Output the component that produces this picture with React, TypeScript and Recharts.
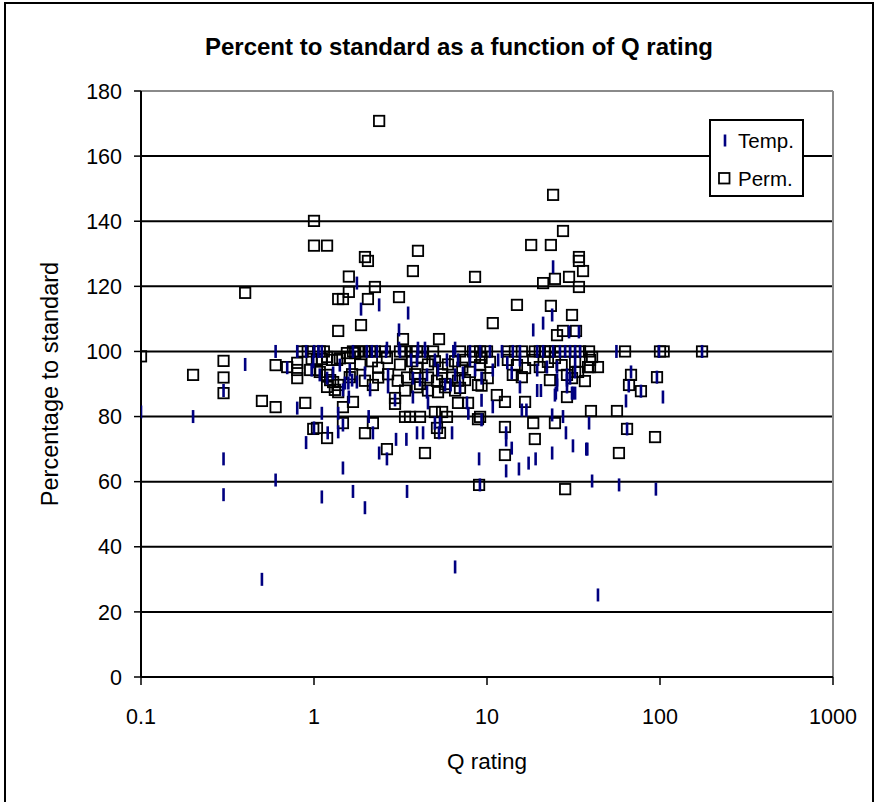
import React from 'react';
import { ScatterChart, Scatter, XAxis, YAxis, CartesianGrid, ReferenceLine } from 'recharts';

// Temp. series: [Q rating, percentage to standard]
const TEMP: [number, number][] = [
  [0.1, 81.4], [0.2, 80.0], [0.3, 88.0], [0.3, 67.0], [0.3, 56.0], [0.4, 96.0], [0.5, 30.0],
  [0.6, 100], [0.6, 60.5], [0.7, 95.0], [0.8, 82.6], [0.9, 72.0], [0.8, 100], [0.9, 100],
  [1.0, 100], [1.06, 100], [1.11, 100], [1.0, 76.5], [1.11, 81.0], [1.11, 55.3], [1.2, 75.0],
  [1.38, 81.0], [1.38, 75.3], [1.47, 64.2], [1.68, 57.0], [1.47, 77.4], [1.97, 52.0],
  [3.45, 57.0], [6.54, 33.8], [43.8, 25.2], [9.0, 67.0], [9.1, 59.0], [12.9, 63.3], [15.3, 63.9],
  [17.4, 65.7], [19.1, 67.0], [23.8, 68.8], [31.4, 71.0], [37.5, 70.0], [38.0, 70.0], [40.5, 60.2],
  [58.0, 59.0], [94.7, 57.7], [2.64, 67.0], [2.38, 68.8], [2.19, 75.0], [2.98, 73.0], [3.42, 73.0],
  [3.94, 75.0], [4.27, 75.0], [6.28, 75.0], [5.28, 75.0], [12.9, 72.8], [12.9, 75.0], [13.9, 70.3],
  [28.6, 75.0], [23.8, 80.5], [27.5, 80.0], [38.9, 78.0], [15.9, 82.0], [16.9, 82.0], [7.8, 81.0],
  [2.07, 80.0], [9.3, 85.0], [10.8, 83.0], [19.5, 88.0], [20.5, 88.0], [24.7, 86.6], [31.4, 87.2],
  [32.3, 87.2], [18.5, 106.6], [21.1, 108.7], [23.8, 111.2], [34.0, 106.0], [29.8, 106.0],
  [3.1, 106.6], [3.5, 111.8], [2.38, 114.3], [1.87, 113.0], [1.77, 121.0], [24.1, 126.0],
  [56.0, 100], [63.6, 84.8], [68.0, 93.7], [66.0, 89.4], [77.6, 87.8], [96.0, 92.1], [104, 86.0],
  [64.5, 76.2], [98.7, 100], [175, 100],
  [1.68, 100], [2.02, 100], [2.16, 100], [2.31, 100], [2.61, 100], [3.14, 100], [3.99, 100],
  [4.38, 100], [6.39, 100], [7.97, 100], [9.12, 100], [10.4, 100], [12.2, 100], [14.1, 100],
  [15.5, 100], [19.5, 100], [21.1, 100], [24.1, 100], [26.4, 100], [28.3, 100], [30.2, 100],
  [32.3, 100], [34.5, 100], [2.64, 101], [3.1, 101], [3.99, 101], [4.38, 101], [6.54, 101],
  [1.58, 90.3], [1.66, 91.2], [1.97, 93.4], [2.68, 92.8], [3.73, 91.8], [4.1, 91.2], [4.5, 92.8],
  [5.21, 94.3], [5.72, 89.7], [6.54, 92.8], [6.98, 89.1], [1.61, 94.3], [1.77, 90.6], [2.11, 88.2],
  [2.68, 89.1], [1.59, 86.0], [3.73, 86.0], [2.94, 85.1], [4.56, 84.2], [4.5, 87.5], [5.0, 78.0],
  [5.35, 78.0], [3.64, 97.4], [3.94, 97.4], [5.0, 97.4], [5.87, 97.4], [6.8, 97.4],
  [0.99, 96.8], [1.08, 92.8], [0.97, 94.3], [1.19, 91.8], [1.29, 93.4], [1.41, 95.8], [1.51, 90.3],
  [1.47, 88.2], [6.16, 89.7], [7.66, 84.2], [13.9, 93.4], [15.5, 89.1], [25.4, 91.2], [25.0, 87.2],
  [9.3, 79.0], [25.4, 89.7], [29.0, 89.1], [31.0, 87.2], [7.97, 97.4], [7.26, 93.4], [8.53, 94.3],
  [9.3, 91.8], [10.8, 94.3], [11.6, 97.4], [13.1, 96.5], [15.5, 97.4], [19.5, 94.3], [22.2, 95.2],
  [25.4, 95.2], [29.0, 92.8], [32.3, 97.4], [29.0, 91.2], [30.2, 91.8], [32.3, 93.7],
];

// Perm. series: [Q rating, percentage to standard]
const PERM: [number, number][] = [
  [0.1, 98.5], [0.2, 92.8], [0.3, 97.1], [0.3, 92.0], [0.3, 87.2], [0.4, 118.0], [0.5, 84.8],
  [0.6, 95.8], [0.6, 82.9], [0.7, 95.2], [0.8, 96.5], [0.8, 94.3], [0.8, 91.8], [0.89, 84.2],
  [0.86, 100], [0.92, 100], [1.08, 100], [1.14, 100], [0.99, 76.2], [1.04, 76.5], [1.19, 73.4],
  [1.0, 140.1], [1.0, 132.5], [1.19, 132.5],
  [0.97, 97.7], [1.04, 97.4], [1.11, 97.7], [1.19, 98.3], [1.27, 97.4], [1.36, 97.4], [1.41, 97.9],
  [0.95, 94.3], [1.08, 93.7], [1.19, 92.8], [1.24, 91.2], [1.29, 90.6], [1.38, 89.7], [1.19, 89.1],
  [1.38, 87.5], [1.04, 94.3], [1.32, 88.2], [1.61, 92.1], [1.47, 82.9], [1.47, 78.0], [1.68, 84.5],
  [1.59, 123.0], [1.59, 118.3], [1.38, 116.1], [1.47, 116.1], [1.38, 106.3], [1.87, 108.1],
  [1.55, 99.5], [1.73, 99.5], [2.38, 170.8], [1.97, 129.0], [2.05, 127.8], [3.99, 130.9],
  [3.73, 124.7], [2.25, 119.8], [2.05, 116.1], [3.10, 116.7], [3.27, 103.8], [5.28, 103.8],
  [8.53, 122.9], [10.8, 108.7], [14.9, 114.3], [18.0, 132.7], [23.4, 132.7], [24.1, 148.1],
  [27.5, 137.0], [34.0, 129.0], [34.0, 127.8], [29.8, 122.9], [35.9, 124.7], [24.7, 122.3],
  [21.1, 121.0], [34.0, 119.8], [23.4, 114.0], [31.0, 111.2], [32.7, 106.3], [27.5, 106.3],
  [25.4, 105.0], [40.5, 98.3], [43.8, 95.2], [39.4, 95.2], [62.8, 100], [100, 100], [105, 100],
  [175, 100], [38.9, 100], [68.0, 92.8], [66.2, 89.7], [77.6, 87.8], [96.1, 92.1], [32.3, 93.7],
  [31.0, 91.8], [36.8, 90.9], [29.0, 86.0], [39.9, 81.7], [56.4, 81.7], [64.5, 76.2], [93.6, 73.7],
  [57.9, 68.8], [28.3, 57.7],
  [1.68, 100], [1.80, 100], [1.97, 100], [2.11, 100], [2.25, 100], [2.57, 100], [3.14, 100],
  [3.36, 100], [3.69, 100], [3.94, 100], [4.27, 100], [4.88, 100], [6.98, 100], [8.30, 100],
  [9.12, 100], [10.0, 100], [13.2, 100], [14.5, 100], [15.9, 100], [18.9, 100], [20.2, 100],
  [21.6, 100], [23.1, 100], [24.7, 100], [26.4, 100], [28.3, 100], [30.2, 100], [32.3, 100],
  [34.5, 100],
  [1.97, 74.9], [2.19, 78.0], [2.19, 89.7], [2.94, 85.7], [2.94, 83.9], [3.36, 79.9], [3.59, 79.9],
  [4.10, 79.9], [5.00, 81.4], [5.50, 81.4], [5.87, 79.9], [9.12, 79.9], [5.35, 75.0], [5.14, 76.5],
  [2.64, 70.0], [4.38, 68.8], [6.80, 84.2], [7.77, 84.2], [12.7, 84.5], [16.6, 84.5], [11.4, 86.6],
  [8.87, 79.2], [12.7, 76.8], [18.5, 78.0], [24.7, 78.0], [18.9, 73.1], [12.7, 68.2], [9.0, 59.0],
  [1.61, 98.0], [1.85, 96.0], [2.16, 97.0], [2.35, 95.0], [2.64, 98.0], [3.14, 96.0], [3.69, 97.0],
  [3.94, 95.0], [4.21, 98.0], [4.56, 96.0], [5.0, 97.0], [5.5, 95.0], [5.95, 96.0], [6.54, 97.0],
  [7.2, 95.0],
  [1.66, 93.0], [1.97, 91.0], [2.35, 92.0], [2.68, 93.0], [3.05, 91.0], [3.45, 92.0], [3.84, 93.0],
  [4.10, 90.0], [4.56, 92.0], [5.14, 91.0], [5.5, 93.0], [5.72, 90.0], [6.28, 92.0], [6.8, 91.0],
  [3.36, 88.0], [3.94, 89.0], [4.56, 88.0], [5.21, 87.5], [5.72, 89.0], [6.54, 88.0],
  [7.36, 97.4], [8.53, 98.3], [9.12, 95.8], [7.97, 93.7], [9.12, 92.8], [7.46, 91.2], [8.87, 89.7],
  [10.4, 96.8], [10.1, 91.8], [6.98, 88.8], [9.3, 98.0], [9.3, 89.5],
  [13.2, 97.4], [14.1, 92.8], [15.9, 92.1], [14.9, 95.8], [16.6, 94.9],
  [18.5, 97.4], [20.2, 95.2], [22.5, 96.8], [24.7, 98.0], [23.1, 91.2], [27.0, 95.8], [29.0, 92.8],
  [32.3, 96.8], [33.6, 93.7], [39.4, 97.4], [38.4, 95.2],
];

const X_TICKS = [0.1, 1, 10, 100, 1000];
const Y_TICKS = [0, 20, 40, 60, 80, 100, 120, 140, 160, 180];

const TITLE = 'Percent to standard as a function of Q rating';
const X_LABEL = 'Q rating';
const Y_LABEL = 'Percentage to standard';
const SERIES_NAMES = ['Temp.', 'Perm.'];

const FONT = '"Liberation Sans", Arial, sans-serif';
const NAVY = '#000080';

const tempData = TEMP.map(([q, pct]) => ({ q, pct }));
const permData = PERM.map(([q, pct]) => ({ q, pct }));

const Dash = (props: any) => {
  const { cx, cy } = props;
  if (cx == null || cy == null) return null;
  return <rect x={cx - 1.3} y={cy - 6.5} width={2.6} height={13} fill={NAVY} />;
};

const Square = (props: any) => {
  const { cx, cy } = props;
  if (cx == null || cy == null) return null;
  return <rect x={cx - 5.2} y={cy - 5.2} width={10.4} height={10.4} fill="none" stroke="#000" strokeWidth={1.8} />;
};

const fmtX = (v: number) => String(v);

export default function App() {
  return (
    <div style={{ position: 'absolute', left: 0, top: 0, width: 877, height: 802, background: '#fff', overflow: 'hidden', fontFamily: FONT }}>
      <div style={{ position: 'absolute', left: 4, top: 2, width: 870, height: 830, border: '2px solid #000', boxSizing: 'border-box' }} />
      <div style={{ position: 'absolute', left: 0, width: 918, top: 33, lineHeight: '28px', textAlign: 'center', fontWeight: 'bold', fontSize: 24, color: '#000' }}>{TITLE}</div>
      <div style={{ position: 'absolute', left: 387, width: 200, top: 749, lineHeight: '26px', textAlign: 'center', fontSize: 22.5, color: '#000' }}>{X_LABEL}</div>
      <div style={{ position: 'absolute', left: 50 - 160, top: 384 - 13, width: 320, lineHeight: '26px', textAlign: 'center', fontSize: 23.5, color: '#000', transform: 'rotate(-90deg)' }}>{Y_LABEL}</div>
      <div style={{ position: 'absolute', left: 0, top: 0 }}>
        <ScatterChart width={877} height={802} margin={{ top: 91, right: 44, bottom: 0, left: 0 }}>
          <CartesianGrid vertical={false} stroke="#000" strokeWidth={2} horizontalValues={Y_TICKS} />
          <ReferenceLine y={180} stroke="#8a8a8a" strokeWidth={2} />
          <ReferenceLine x={1000} stroke="#8a8a8a" strokeWidth={2} />
          <XAxis
            type="number"
            dataKey="q"
            scale="log"
            domain={[0.1, 1000]}
            ticks={X_TICKS}
            interval={0}
            allowDataOverflow
            height={125}
            tickFormatter={fmtX}
            tickSize={8}
            tickMargin={24}
            axisLine={{ stroke: '#000', strokeWidth: 2 }}
            tickLine={{ stroke: '#000', strokeWidth: 1.5 }}
            tick={{ fill: '#000', fontSize: 21.5, fontFamily: FONT }}
          />
          <YAxis
            type="number"
            dataKey="pct"
            domain={[0, 180]}
            ticks={Y_TICKS}
            interval={0}
            width={141}
            tickSize={7}
            tickMargin={12}
            axisLine={{ stroke: '#000', strokeWidth: 2 }}
            tickLine={{ stroke: '#000', strokeWidth: 1.5 }}
            tick={{ fill: '#000', fontSize: 21.5, fontFamily: FONT }}
          />
          <Scatter name={SERIES_NAMES[1]} data={permData} shape={Square} isAnimationActive={false} />
          <Scatter name={SERIES_NAMES[0]} data={tempData} shape={Dash} isAnimationActive={false} />
        </ScatterChart>
      </div>
      <div style={{ position: 'absolute', left: 709, top: 119, width: 95, height: 78, border: '2px solid #000', boxSizing: 'border-box', background: '#fff', fontSize: 20.5, color: '#000' }}>
        <svg width={16} height={16} style={{ position: 'absolute', left: 6, top: 12 }}>
          <rect x={6.7} y={1.5} width={2.6} height={12} fill={NAVY} />
        </svg>
        <div style={{ position: 'absolute', left: 27, top: 8, lineHeight: '24px' }}>{SERIES_NAMES[0]}</div>
        <svg width={16} height={16} style={{ position: 'absolute', left: 6, top: 50 }}>
          <rect x={2} y={2} width={10.5} height={10.5} fill="none" stroke="#000" strokeWidth={1.8} />
        </svg>
        <div style={{ position: 'absolute', left: 27, top: 46, lineHeight: '24px' }}>{SERIES_NAMES[1]}</div>
      </div>
    </div>
  );
}
